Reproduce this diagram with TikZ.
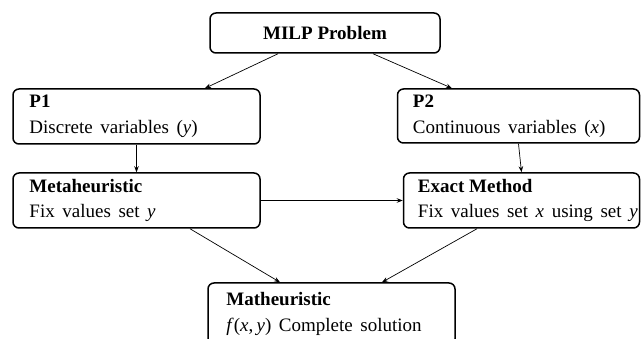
\documentclass[tikz,border=0pt]{standalone}
\usepackage{fontspec}
\setmainfont{Liberation Serif}
\usetikzlibrary{calc,arrows.meta}
\newcommand\mywidespace{\spaceskip=0.4em plus 0.1em minus 0.05em\relax}
\tikzset{
  boxnode/.style={draw, line width=1.5pt, rounded corners=6pt, inner sep=0pt},
  txtnode/.style={anchor=west, align=left, inner sep=0pt, font=\fontsize{19}{25.5}\selectfont},
  conn/.style={line width=0.7pt, -{Stealth[length=6pt,width=4.5pt]}}
}
\begin{document}
\begin{tikzpicture}[x=1pt,y=-1pt]
\useasboundingbox (0,0) rectangle (641,339);
\begin{scope}
\clip (0,0) rectangle (641,339);
\node[boxnode, minimum width=230pt, minimum height=40pt] (milp) at (325,33) {};
\node[boxnode, minimum width=247pt, minimum height=55pt] (p1) at (136.5,116.5) {};
\node[boxnode, minimum width=242pt, minimum height=54pt] (p2) at (518.5,116) {};
\node[boxnode, minimum width=247pt, minimum height=55pt] (meta) at (136.5,200.5) {};
\node[boxnode, minimum width=236pt, minimum height=55pt] (exact) at (521.5,200.5) {};
\node[boxnode, minimum width=247pt, minimum height=62pt] (math) at (331.5,314) {};
\end{scope}
\node[inner sep=0pt, font=\fontsize{19}{25}\selectfont\bfseries] (milpt) at (milp.center) {MILP Problem};
\node[txtnode] (p1t) at ($(p1.west)+(17,0)$) {\textbf{P1}\\\mywidespace Discrete variables (\textit{y})};
\node[txtnode] (p2t) at ($(p2.west)+(16,0)$) {\textbf{P2}\\\mywidespace Continuous variables (\textit{x})};
\node[txtnode] (metat) at ($(meta.west)+(17,0)$) {\textbf{Metaheuristic}\\\mywidespace Fix values set \textit{y}};
\node[txtnode] (exactt) at ($(exact.west)+(15,0)$) {\textbf{Exact Method}\\\mywidespace Fix values set \textit{x} using set \textit{y}};
\node[txtnode] (matht) at ($(math.west)+(19,0)$) {\textbf{Matheuristic}\\\mywidespace\textit{f}(\textit{x},\,\textit{y}) Complete solution};
\draw[conn] ($(milp.south)+(-47,0)$) -- ($(p1.north)+(68.5,0)$);
\draw[conn] ($(milp.south)+(48,0)$) -- ($(p2.north)+(-66.5,0)$);
\draw[conn] (p1.south) -- (meta.north);
\draw[conn] (p2.south) -- (exact.north);
\draw[conn] (meta.east) -- (exact.west);
\draw[conn] ($(meta.south)+(53.5,0)$) -- ($(math.north)+(-51.5,0)$);
\draw[conn] ($(exact.south)+(-44.5,0)$) -- ($(math.north)+(50.5,0)$);
\end{tikzpicture}
\end{document}
